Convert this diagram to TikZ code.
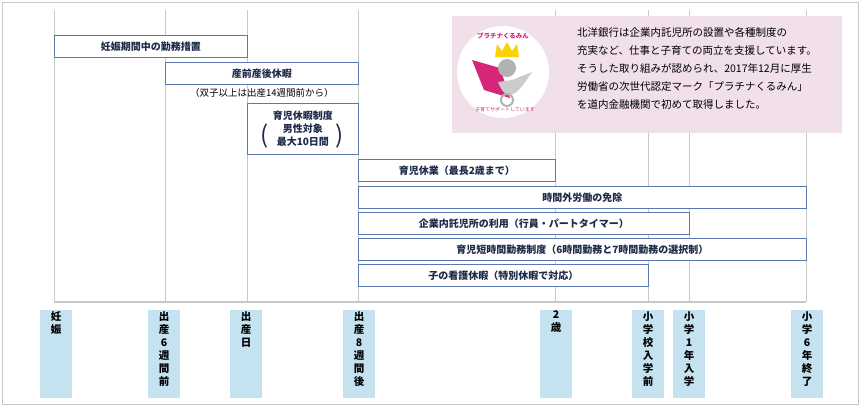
\documentclass[tikz,border=0pt]{standalone}
\usepackage{fontspec}
\setmainfont{Noto Sans CJK JP}
\usetikzlibrary{positioning}
\definecolor{frame}{HTML}{C8C8C8}
\definecolor{barblue}{HTML}{C4E2EF}
\definecolor{boxline}{HTML}{5B79B0}
\definecolor{navy}{HTML}{1E2A4A}
\definecolor{pinkbg}{HTML}{F1DFE9}
\definecolor{logopink}{HTML}{D6267A}
\tikzset{
  spanbox/.style={draw=boxline, line width=0.8pt, fill=white, text=navy, font=\bfseries\fontsize{10}{12}\selectfont},
  stagebar/.style={fill=barblue, draw=none},
  stagetext/.style={text=black, font=\bfseries\fontsize{10.5}{13}\selectfont, align=center, anchor=north, inner sep=0pt}
}
\begin{document}
\begin{tikzpicture}[x=1pt,y=-1pt]
            \useasboundingbox (0,0) rectangle (860,416);
            \draw[frame, line width=0.8pt] (2,2) rectangle (858,404);

            % time axis
            \foreach \x in {54,165,247,358,555,648,689,806}
              \draw[frame, line width=1pt] (\x,10) -- (\x,302);
            \draw[frame, line width=1.2pt] (54,302) -- (806,302);

            % stage labels
            \foreach \x/\t in {56/妊\\娠, 164/出\\産\\6\\週\\間\\前, 246/出\\産\\日, 359/出\\産\\8\\週\\間\\後, 556/2\\歳, 648/小\\学\\校\\入\\学\\前, 689/小\\学\\1\\年\\入\\学, 807/小\\学\\6\\年\\終\\了} {
              \fill[stagebar] (\x-16,310) rectangle (\x+16,398);
              \node[stagetext] at (\x,311) {\t};
            }

            % measures
            \node[spanbox, minimum width=193pt, minimum height=22pt, anchor=north west] (pregnant) at (54,35) {妊娠期間中の勤務措置};
            \node[spanbox, minimum width=193pt, minimum height=22pt, anchor=north west] (maternity) at (165,62) {産前産後休暇};
            \node[font=\fontsize{9.5}{11}\selectfont, below=0pt of maternity] (twins) {（双子以上は出産14週間前から）};
            \node[spanbox, minimum width=111pt, minimum height=51pt, anchor=north west] (paternity) at (247,103) {};
            \node[spanbox, draw=none, fill=none, align=center, font=\bfseries\fontsize{10}{13}\selectfont] at (paternity.center) {育児休暇制度\\男性対象\\最大10日間};
            \node[text=navy, font=\fontsize{24}{24}\selectfont] at (265,136) {(};
            \node[text=navy, font=\fontsize{24}{24}\selectfont] at (340,136) {)};
            \node[spanbox, minimum width=197pt, minimum height=22pt, anchor=north west] (childcare) at (358,159) {育児休業（最長2歳まで）};
            \node[spanbox, minimum width=448pt, minimum height=22pt, anchor=north west] (overtime) at (358,186) {時間外労働の免除};
            \node[spanbox, minimum width=331pt, minimum height=22pt, anchor=north west] (nursery) at (358,212) {企業内託児所の利用（行員・パートタイマー）};
            \node[spanbox, minimum width=448pt, minimum height=22pt, anchor=north west] (shorthours) at (358,238) {育児短時間勤務制度（6時間勤務と7時間勤務の選択制）};
            \node[spanbox, minimum width=290pt, minimum height=22pt, anchor=north west] (sickcare) at (358,264) {子の看護休暇（特別休暇で対応）};

            % note with logo
            \fill[pinkbg] (452,16) rectangle (842,133);
            \fill[white] (503,72) circle[radius=46];
            \fill[logopink] (472,60) -- (500,68) -- (510,98) -- (484,90) -- cycle;
            \fill[gray!60] (507,68) circle[radius=9];
            \fill[gray!40] (498,82) .. controls (508,108) and (520,90) .. (532,72) -- (512,80) -- cycle;
            \draw[gray!60, line width=2pt] (507,100) circle[radius=6];
            \fill[yellow!70!orange] (495,57) -- (497,44) -- (502,51) -- (507,42) -- (512,51) -- (517,44) -- (519,57) -- cycle;
            \node[text=logopink, font=\bfseries\fontsize{6.5}{7}\selectfont] at (503,36) {プラチナくるみん};
            \node[text=logopink, font=\fontsize{5}{6}\selectfont] at (505,110) {子育てサポートしています};
            \node[anchor=north west, align=left, inner sep=0pt, font=\fontsize{10.5}{18}\selectfont] (note) at (577,27)
              {北洋銀行は企業内託児所の設置や各種制度の\\充実など、仕事と子育ての両立を支援しています。\\そうした取り組みが認められ、2017年12月に厚生\\労働省の次世代認定マーク「プラチナくるみん」\\を道内金融機関で初めて取得しました。};
        \end{tikzpicture}
\end{document}
